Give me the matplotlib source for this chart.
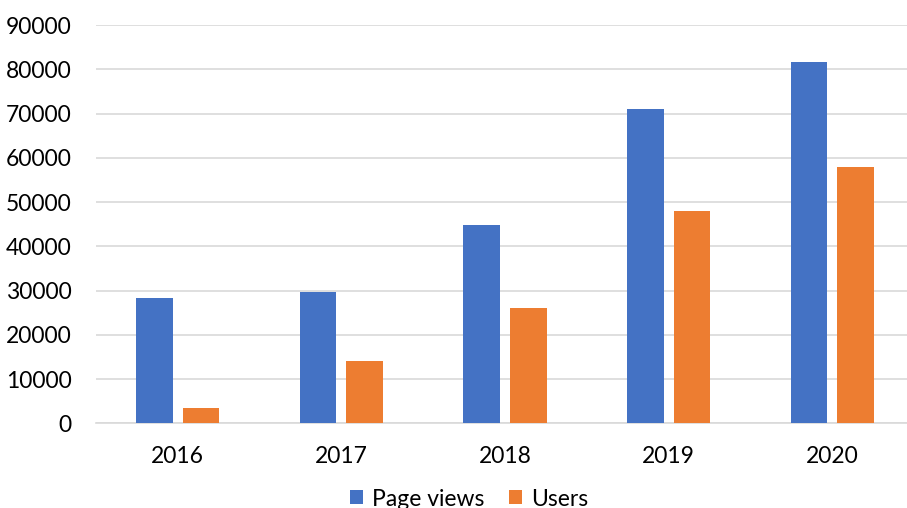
import matplotlib
matplotlib.use("Agg")
import matplotlib.pyplot as plt
import numpy as np

years = ["2016", "2017", "2018", "2019", "2020"]
page_views = [28400, 29600, 44900, 71100, 81700]
users = [3500, 14000, 26100, 48000, 58000]
series_names = ["Page views", "Users"]
colors = ["#4472C4", "#ED7D31"]

plt.rcParams['font.family'] = ['Lato', 'DejaVu Sans']

W, H = 907, 508
fig = plt.figure(figsize=(W / 100, H / 100), dpi=100)
left = 96 / W
bottom = (H - 423.3) / H
top = (H - 25) / H
ax = fig.add_axes([left, bottom, 1 - left, top - bottom])

x = np.arange(len(years))
bw = 0.224
off = 0.142
ax.bar(x - off, page_views, bw, color=colors[0], label=series_names[0], zorder=3)
ax.bar(x + off, users, bw, color=colors[1], label=series_names[1], zorder=3)

ax.set_xlim(-0.5, -0.5 + 811 / 163.6)
ax.set_ylim(0, 90000)
ax.set_yticks(np.arange(0, 90001, 10000))
ax.yaxis.grid(True, color="#d9d9d9", linewidth=1.2, zorder=0)
ax.set_axisbelow(True)
for s in ["top", "right", "left"]:
    ax.spines[s].set_visible(False)
ax.spines["bottom"].set_color("#d9d9d9")
ax.spines["bottom"].set_linewidth(1.2)
ax.tick_params(axis="both", length=0, labelsize=16.5, colors="#000000")
ax.tick_params(axis="y", pad=17.3)
ax.tick_params(axis="x", pad=16)
ax.set_xticks(x)
ax.set_xticklabels(years)

fig.legend(loc="center", bbox_to_anchor=(469 / W, (H - 499) / H), ncol=2,
           frameon=False, fontsize=16.5, handlelength=0.57, handleheight=0.57,
           handletextpad=0.4, columnspacing=1.05, borderpad=0)

fig.savefig("out.png", dpi=100)
